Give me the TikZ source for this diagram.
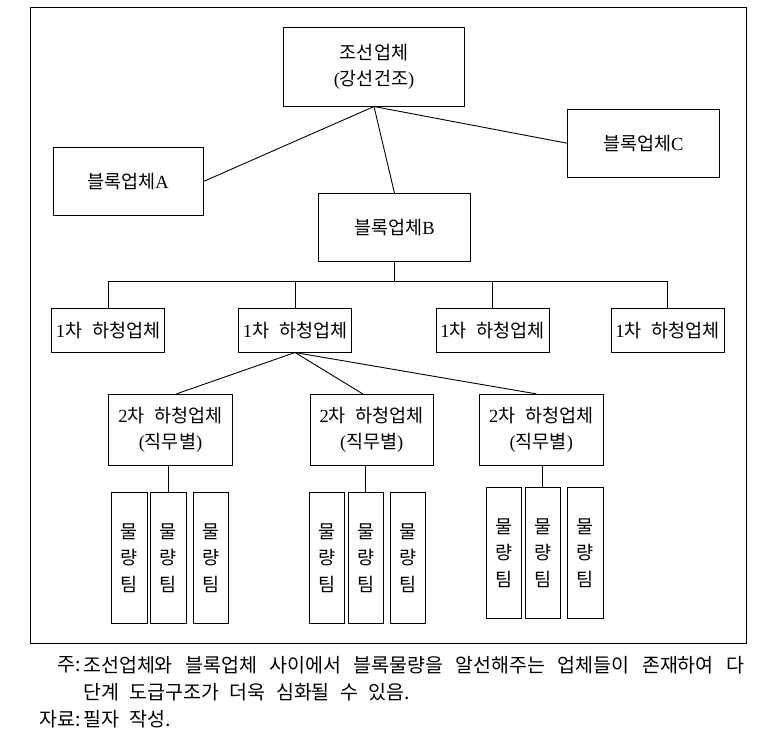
\documentclass[tikz,border=0pt]{standalone}
\usepackage{fontspec}
\setmainfont[WordSpace=2.4]{Noto Sans CJK KR}
\newfontfamily\lat{Liberation Serif}
\begin{document}
\begin{tikzpicture}[x=1pt,y=-1pt,
  box/.style={draw,line width=0.9pt,inner sep=0pt,align=center,font=\fontsize{18.5}{26.5}\selectfont},
  team/.style={box,minimum width=36pt,minimum height=131pt},
  conn/.style={line width=0.9pt},
  note/.style={inner sep=0pt,font=\fontsize{19.5}{20}\selectfont}]
\useasboundingbox (0,0) rectangle (761,737);
\draw[conn] (30.3,7) rectangle (746,643.3);
% level 0 and 1
\node[box,minimum width=181pt,minimum height=78.7pt] (top) at (374,66.7) {조선업체\\{\lat (}강선건조{\lat )}};
\node[box,minimum width=150pt,minimum height=67.6pt] (A) at (128,181.5) {블록업체{\lat A}};
\node[box,minimum width=151.5pt,minimum height=67.7pt] (C) at (643.3,143.2) {블록업체{\lat C}};
\node[box,minimum width=151.3pt,minimum height=67.7pt] (B) at (394.4,227.2) {블록업체{\lat B}};
\draw[conn] (top.south) -- (A.east);
\draw[conn] (top.south) -- (B.north);
\draw[conn] (top.south) -- (C.west);
% first-tier subcontractors
\node[box,minimum width=112.6pt,minimum height=43.7pt] (r1) at (108,330.2) {{\lat 1}차 하청업체};
\node[box,minimum width=112.6pt,minimum height=43.7pt] (r2) at (295,330.2) {{\lat 1}차 하청업체};
\node[box,minimum width=113pt,minimum height=43.7pt] (r3) at (492.5,330.2) {{\lat 1}차 하청업체};
\node[box,minimum width=113pt,minimum height=43.7pt] (r4) at (667.5,330.2) {{\lat 1}차 하청업체};
\coordinate (bus) at (394.4,281);
\draw[conn] (B.south) -- (bus);
\draw[conn] (r1.north) -- (r1.north |- bus) -- (r4.north |- bus) -- (r4.north);
\draw[conn] (r2.north) -- (r2.north |- bus);
\draw[conn] (r3.north) -- (r3.north |- bus);
% second-tier subcontractors
\node[box,minimum width=124.4pt,minimum height=71pt] (ga) at (170.5,429.8) {{\lat 2}차 하청업체\\{\lat (}직무별{\lat )}};
\node[box,minimum width=123.4pt,minimum height=71pt] (gb) at (371.7,429.8) {{\lat 2}차 하청업체\\{\lat (}직무별{\lat )}};
\node[box,minimum width=124pt,minimum height=71pt] (gc) at (541.3,429.8) {{\lat 2}차 하청업체\\{\lat (}직무별{\lat )}};
\draw[conn] (r2.south) -- ([xshift=6pt]ga.north);
\draw[conn] (r2.south) -- ([xshift=-9pt]gb.north);
\draw[conn] (r2.south) -- ([xshift=-5pt]gc.north);
% teams
\node[team] (a1) at (129.5,557.8) {물\\량\\팀};
\node[team] (a2) at (168.4,557.8) {물\\량\\팀};
\node[team,minimum width=35pt] (a3) at (210.7,557.8) {물\\량\\팀};
\node[team,minimum width=35pt] (b1) at (326.8,557.8) {물\\량\\팀};
\node[team,minimum width=35pt] (b2) at (365.7,557.8) {물\\량\\팀};
\node[team,minimum width=35pt] (b3) at (407.9,557.8) {물\\량\\팀};
\node[team,minimum width=35pt] (c1) at (503.9,552.8) {물\\량\\팀};
\node[team,minimum width=35pt] (c2) at (542.9,552.8) {물\\량\\팀};
\node[team,minimum width=35.7pt] (c3) at (585.3,552.8) {물\\량\\팀};
\draw[conn] (a2.north) -- (a2.north |- ga.south);
\draw[conn] (b2.north) -- (b2.north |- gb.south);
\draw[conn] (c2.north) -- (c2.north |- gc.south);
% notes
\node[note,anchor=east] (n1) at (81,665) {주:};
\node[note,anchor=west] (n1t) at (83,665) {\makebox[661pt][s]{조선업체와 블록업체 사이에서 블록물량을 알선해주는 업체들이 존재하여 다}};
\node[note,anchor=west] (n2t) at (83,692) {단계 도급구조가 더욱 심화될 수 있음.};
\node[note,anchor=east] (n3) at (81,719) {자료:};
\node[note,anchor=west] (n3t) at (83,719) {필자 작성.};
\end{tikzpicture}
\end{document}
